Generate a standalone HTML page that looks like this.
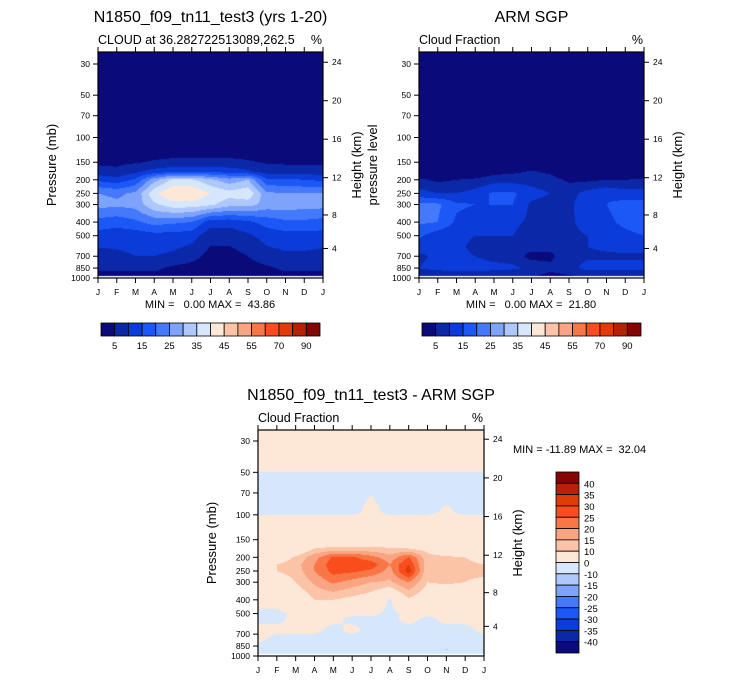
<!DOCTYPE html>
<html><head><meta charset="utf-8"><style>
html,body{margin:0;padding:0;background:#fff;}
#wrap{position:relative;width:733px;height:680px;overflow:hidden;font-family:"Liberation Sans",sans-serif;}
canvas{position:absolute;left:0;top:0;}
svg{position:absolute;left:0;top:0;}
text{white-space:pre;}
</style></head><body>
<div id="wrap">
<canvas id="cv" width="733" height="680"></canvas>
<svg id="sv" width="733" height="680"></svg>
</div>
<script>
// ---- data ----
const months = ["J","F","M","A","M","J","J","A","S","O","N","D","J"];
const heightTicks = [4,8,12,16,20,24];
const pressureTicks = [30,50,70,100,150,200,250,300,400,500,700,850,1000];
const cloudLevels = [5,10,15,20,25,30,35,40,45,50,55,60,70,80,90];
const cloudLabels = ["5","15","25","35","45","55","70","90"];
const diffLevels = [-40,-35,-30,-25,-20,-15,-10,0,10,15,20,25,30,35,40];
const diffLabels = ["40","35","30","25","20","15","10","0","-10","-15","-20","-25","-30","-35","-40"];
const fillColors = ["#0a0a7a","#0b28a8","#0b3bd8","#1c58f5","#4479fb","#7da3fb","#afc8fb","#d6e7fc","#fde8d8","#fbc4a7","#f9a482","#f97646","#f84d1c","#e03b08","#b52205","#850505"];

const modelPressures = [20,100,150,175,200,250,300,400,500,700,850,950,1000];
const modelCloud = [
 [0,0,0,0,0,0,0,0,0,0,0,0,0],
 [0,0,0,0,0,0,0,0,0,0,0,0,0],
 [4,4,4.5,5.5,6,6,6,6,5.5,4.5,4,4,4],
 [7,6,9,12,14,14,14,13,11,8,8,8,7],
 [14,12,16,28,36,36,31,27,30,16,16,15,14],
 [25,24,26,39,45,45,40,37,39,26,25,25,25],
 [27,26,27,34,38,38,36,32,32,28,28,27,27],
 [18,17,19,22,21,20,12,12,14,17,19,19,18],
 [13,12,12,13,13,12,7,7,9,12,13,13,13],
 [8,9,10,10,9,7,3,3,5,8,9,9,8],
 [6,6,6,6,4,3,2,2,3,4,6,6,6],
 [4,4,4,4,3,2,1,1,2,3,4,4,4],
 [3,3,3,3,2,1,1,1,1,2,3,3,3]
];
const armPressures = [20,150,175,200,250,300,400,500,600,700,850,950,1000];
const armCloud = [
 [0,0,0,0,0,0,0,0,0,0,0,0,0],
 [0,0,0,0,0,0,0,0,0,0,0,0,0],
 [0,0,0,0,3,4,5.5,4,0,0,0,0,0],
 [6,4,5,6,8,8,8,7,4,4,5,5,6],
 [12,10,10,12,16,16,12,10,8,12,14,12,12],
 [21,21,16,15,15,15,9,8,9,13,15,17,17],
 [21,20,14,12,11,11,9,8,9,12,14,16,17],
 [16,12,11,10,10,10,8,8,9,10,13,14,15],
 [12,11,11,9,8,8,7,6,8,10,11,12,12],
 [9,11,11,10,8,8,3,4,8,9,9,9,9],
 [10,12,13,13,12,11,9,6,8,12,12,12,12],
 [6,6,6,6,6,6,6,4,5,6,6,6,6],
 [4,4,4,4,4,4,4,3,4,4,4,4,4]
];
const diffPressures = [20,48,52,70,95,105,150,175,200,225,250,300,400,500,550,650,750,850,900,1000];
const diffCloud = [
 [1,1,1,1,1,1,1,1,1,1,1,1,1],
 [1,1,1,1,1,1,1,1,1,1,1,1,1],
 [-1,-1,-1,-1,-1,-1,-1,-1,-1,-1,-1,-1,-1],
 [-1,-1,-1,-1,-1,-1,-0.2,-1,-1,-1,-1,-1,-1],
 [-1,-1,-1,-1,-1,-1,1,-1,-1,-1,0.6,-1,-1],
 [1,1,1,1,1,1,1,1,1,1,1,1,1],
 [2,2,2,3,4,4,4,4,4,3,2,2,2],
 [2,2,3,10.5,12,12,12,11,10.5,8,4,3,2],
 [3,5,11,18,26,26,22,17,25,12,11,10,8],
 [8,10,13,20,28,28,28,20,30,12,11,11,10],
 [7,10,12,20,27,26,24,18,33,11,11,11,11],
 [2,6,10,16,21,18,15,14,20,10,11,10,9],
 [2,2,4,10,10,8,6,-1,9,5,3,2,2],
 [-1,-1,1,1,1,1,1,-1,1,1,1,1,1],
 [-1,-1,1,1,1,-1,-1,-1,1,-1,1,1,1],
 [1,1,1,1,-1,1,-1,-1,-1,-1,-1,-1,1],
 [1,-1,-1,-1,-1,-1,-1,-1,-1,-1,-1,-1,-1],
 [-1,-1,-1,-1,-1,-1,-1,-1,-1,-1,-5,-1,-1],
 [-1,-1,-1,-1,-1,-1,-1,-1,-1,-1,-11,-1,-1],
 [-1,-1,-1,-1,-1,-1,-1,-1,-1,-1,-1,-1,-1]
];

// ---- rendering ----
const NS="http://www.w3.org/2000/svg";
const sv=document.getElementById('sv');
const ctx=document.getElementById('cv').getContext('2d');
function mk(tag,attrs,parent){const e=document.createElementNS(NS,tag);for(const k in attrs)e.setAttribute(k,attrs[k]);(parent||sv).appendChild(e);return e;}
function txt(x,y,s,size,anchor,extra){const t=mk('text',Object.assign({x:x,y:y,'font-size':size,'text-anchor':anchor||'start','font-family':'Liberation Sans, sans-serif',fill:'#000'},extra||{}));t.textContent=s;return t;}
function hToP(km){const z=km*1000;if(z<=11000)return 1013.25*Math.pow(1-2.2558e-5*z,5.256);return 226.3*Math.exp(-(z-11000)/6341.6);}

function drawPanel(c){
  const k=(c.B-c.y30)/Math.log(1000/30);
  const yOf=p=>c.B-Math.log(1000/p)*k;
  const xOf=i=>c.L+i*(c.R-c.L)/12;
  const lnP=c.pres.map(p=>Math.log(p));
  const img=ctx.createImageData(c.R-c.L,c.B-c.T);
  const rgb=fillColors.map(h=>[parseInt(h.substr(1,2),16),parseInt(h.substr(3,2),16),parseInt(h.substr(5,2),16)]);
  for(let py=c.T;py<c.B;py++){
    const lp=Math.log(1000)-(c.B-(py+0.5))/k;
    let r=0;while(r<lnP.length-2&&lp>lnP[r+1])r++;
    let fy=(lp-lnP[r])/(lnP[r+1]-lnP[r]);fy=Math.max(0,Math.min(1,fy));
    for(let px=c.L;px<c.R;px++){
      const u=(px+0.5-c.L)/(c.R-c.L)*12;
      let ci=Math.min(11,Math.floor(u));const fx=u-ci;
      const v=(1-fy)*((1-fx)*c.vals[r][ci]+fx*c.vals[r][ci+1])+fy*((1-fx)*c.vals[r+1][ci]+fx*c.vals[r+1][ci+1]);
      let idx=0;while(idx<c.levels.length&&v>=c.levels[idx])idx++;
      let col=rgb[idx];
      if(Math.exp(lp)>c.missingBelow)col=[255,255,255];
      const o=((py-c.T)*(c.R-c.L)+(px-c.L))*4;
      img.data[o]=col[0];img.data[o+1]=col[1];img.data[o+2]=col[2];img.data[o+3]=255;
    }
  }
  ctx.putImageData(img,c.L,c.T);
  const g=mk('g',{});
  
  
  const fr=mk('rect',{x:c.L,y:c.T,width:c.R-c.L,height:c.B-c.T,fill:'none',stroke:'#000','stroke-width':1.2},g);
  
  
  months.forEach((m,i)=>{
    const x=xOf(i);
    mk('line',{x1:x,x2:x,y1:c.B,y2:c.B+5,stroke:'#000','stroke-width':1},g);
    mk('line',{x1:x,x2:x,y1:c.T,y2:c.T-5,stroke:'#000','stroke-width':1},g);
    const t=txt(x,c.B+17,m,8.5,'middle');g.appendChild(t);
    
    
  });
  pressureTicks.forEach(p=>{
    const y=yOf(p);
    mk('line',{x1:c.L,x2:c.L-5,y1:y,y2:y,stroke:'#000','stroke-width':1},g);
    const t=txt(c.L-8,y+3,String(p),8.5,'end');g.appendChild(t);
    
    
  });
  heightTicks.forEach(h=>{
    const y=yOf(hToP(h));
    mk('line',{x1:c.R,x2:c.R+5,y1:y,y2:y,stroke:'#000','stroke-width':1},g);
    const t=txt(c.R+9,y+3,String(h),8.5,'start');g.appendChild(t);
    
    
  });
  const yl=txt(0,0,c.ylabel,13,'middle',{transform:`translate(${c.L-42},${(c.T+c.B)/2}) rotate(-90)`});
  
  
  const yr=txt(0,0,'Height (km)',13,'middle',{transform:`translate(${c.R+38},${(c.T+c.B)/2}) rotate(-90)`});
  
  
  const tt=txt((c.L+c.R)/2,c.T-30,c.title,16,'middle');
  
  
  const st=txt(c.L,c.T-8,c.sub,12.5,'start');
  
  
  const pc=txt(c.R-1,c.T-8,'%',12.5,'end');
  
  
}

function hBar(x0,x1,y0,y1,labels){
  const w=(x1-x0)/16;
  const g=mk('g',{});
  
  
  fillColors.forEach((col,i)=>{
    const r=mk('rect',{x:x0+i*w,y:y0,width:w,height:y1-y0,fill:col,stroke:'#000','stroke-width':0.8},g);
    
    
  });
  labels.forEach((l,j)=>{
    const t=txt(x0+(2*j+1)*w,y1+13,l,9.5,'middle');g.appendChild(t);
    
    
  });
}
function vBar(x0,x1,y0,y1,labels){
  const h=(y1-y0)/16;
  const g=mk('g',{});
  
  
  fillColors.slice().reverse().forEach((col,i)=>{
    const r=mk('rect',{x:x0,y:y0+i*h,width:x1-x0,height:h,fill:col,stroke:'#000','stroke-width':0.8},g);
    
    
  });
  labels.forEach((l,j)=>{
    const t=txt(x1+5,y0+(j+1)*h+4,l,9.5,'start');g.appendChild(t);
    
    
  });
}

drawPanel({name:'model-panel',L:98,R:323,T:52,B:278,y30:64,pres:modelPressures,vals:modelCloud,levels:cloudLevels,missingBelow:965,
  title:'N1850_f09_tn11_test3 (yrs 1-20)',sub:'CLOUD at 36.282722513089,262.5',ylabel:'Pressure (mb)'});
drawPanel({name:'arm-panel',L:419,R:644,T:52,B:278,y30:64,pres:armPressures,vals:armCloud,levels:cloudLevels,missingBelow:975,
  title:'ARM SGP',sub:'Cloud Fraction',ylabel:'pressure level'});
drawPanel({name:'diff-panel',L:258,R:484,T:430,B:656,y30:441,pres:diffPressures,vals:diffCloud,levels:diffLevels,missingBelow:975,
  title:'N1850_f09_tn11_test3 - ARM SGP',sub:'Cloud Fraction',ylabel:'Pressure (mb)'});

let m1=txt(210,308,'MIN =   0.00 MAX =  43.86',11,'middle');


let m2=txt(531,308,'MIN =   0.00 MAX =  21.80',11,'middle');


let m3=txt(513,453,'MIN = -11.89 MAX =  32.04',11,'start');



hBar(101,320,323,336,cloudLabels);
hBar(422,641,323,336,cloudLabels);
vBar(556,579,472,653,diffLabels);
</script>
</body></html>
